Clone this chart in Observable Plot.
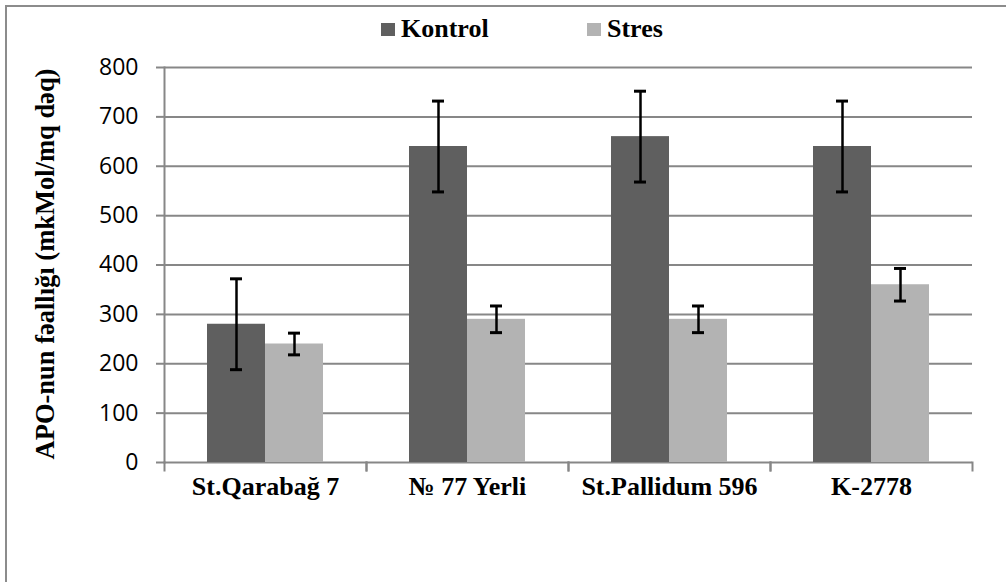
<!DOCTYPE html>
<html>
<head>
<meta charset="utf-8">
<script src="https://cdn.jsdelivr.net/npm/d3@7"></script>
<script src="https://cdn.jsdelivr.net/npm/@observablehq/plot@0.6"></script>
<style>
  html, body { margin: 0; padding: 0; background: #fff; overflow: hidden; width: 1006px; height: 582px; }
  #wrap { position: relative; width: 1006px; height: 582px; }
  #border { position: absolute; left: 5px; top: 5px; width: 1200px; height: 800px; border: 2px solid #8c8c8c; box-sizing: border-box; }
  #chart { position: absolute; left: 0; top: 0; }
  .serif { font-family: "Liberation Serif", serif; font-weight: bold; color: #000; }
  .leg { position: absolute; top: 14px; display: flex; align-items: center; font-size: 26px; line-height: 30px; }
  .sw { width: 14px; height: 13px; margin-right: 6px; }
  #ytitle { position: absolute; left: 45px; top: 264px; transform: translate(-50%, -50%) rotate(-90deg); white-space: nowrap; font-size: 26.5px; font-family: "Liberation Serif", serif; font-weight: bold; }
</style>
</head>
<body>
<div id="wrap">
  <div id="border"></div>
  <div id="chart"></div>
  <div id="legend"></div>
  <div id="ytitle">APO-nun fəallığı (mkMol/mq dəq)</div>
</div>
<script>
const categories = ["St.Qarabağ 7", "№ 77 Yerli", "St.Pallidum 596", "K-2778"];
const series = ["Kontrol", "Stres"];
const kontrolValues = [280, 640, 660, 640];
const kontrolErrors = [92, 92, 92, 92];
const stresValues = [240, 290, 290, 360];
const stresErrors = [22, 27, 27, 33];
const yTicks = [0, 100, 200, 300, 400, 500, 600, 700, 800];
const colors = ["#5f5f5f", "#b3b3b3"];

const rows = [];
categories.forEach((c, i) => {
  rows.push({category: c, series: "Kontrol", value: kontrolValues[i], err: kontrolErrors[i]});
  rows.push({category: c, series: "Stres", value: stresValues[i], err: stresErrors[i]});
});

const gray = "#878787";

const chart = Plot.plot({
  width: 1006,
  height: 582,
  marginTop: 67,
  marginBottom: 120,
  marginLeft: 163,
  marginRight: 34,
  style: {background: "transparent"},
  fx: {domain: categories, padding: 0, label: null},
  x: {domain: series, paddingInner: 0, paddingOuter: 0.73, axis: null},
  y: {domain: [0, 800], label: null},
  color: {domain: series, range: colors},
  marks: [
    Plot.ruleY(yTicks, {stroke: gray, strokeWidth: 2}),
    Plot.barY(rows, {fx: "category", x: "series", y: "value", fill: "series"}),
    Plot.ruleX(rows, {fx: "category", x: "series", y1: d => d.value - d.err, y2: d => d.value + d.err, stroke: "#000", strokeWidth: 2.5}),
    Plot.tickY(rows, {fx: "category", x: "series", y: d => d.value + d.err, stroke: "#000", strokeWidth: 3, insetLeft: 23, insetRight: 23}),
    Plot.tickY(rows, {fx: "category", x: "series", y: d => d.value - d.err, stroke: "#000", strokeWidth: 3, insetLeft: 23, insetRight: 23}),
    Plot.frame({anchor: "left", stroke: gray, strokeWidth: 2, facetAnchor: "left"}),
    Plot.frame({anchor: "left", stroke: gray, strokeWidth: 2, insetTop: 395, insetBottom: -8}),
    Plot.frame({anchor: "right", stroke: gray, strokeWidth: 2, insetTop: 395, insetBottom: -8}),
    Plot.axisY({ticks: yTicks, tickSize: 8, tickPadding: 18, stroke: gray, strokeWidth: 2, fontSize: 23, fontFamily: "'Open Sans', sans-serif", fill: "#000", label: null}),
    Plot.axisFx({anchor: "bottom", tickSize: 0, tickPadding: 14, fontSize: 26, fontWeight: "bold", fontFamily: "'Liberation Serif', serif", fill: "#000", label: null})
  ]
});
document.getElementById("chart").appendChild(chart);

const legend = document.getElementById("legend");
const legendLefts = [381, 587];
series.forEach((s, i) => {
  const item = document.createElement("div");
  item.className = "leg serif";
  item.style.left = legendLefts[i] + "px";
  const sw = document.createElement("span");
  sw.className = "sw";
  sw.style.background = colors[i];
  const t = document.createElement("span");
  t.textContent = s;
  item.appendChild(sw);
  item.appendChild(t);
  legend.appendChild(item);
});
</script>
</body>
</html>
